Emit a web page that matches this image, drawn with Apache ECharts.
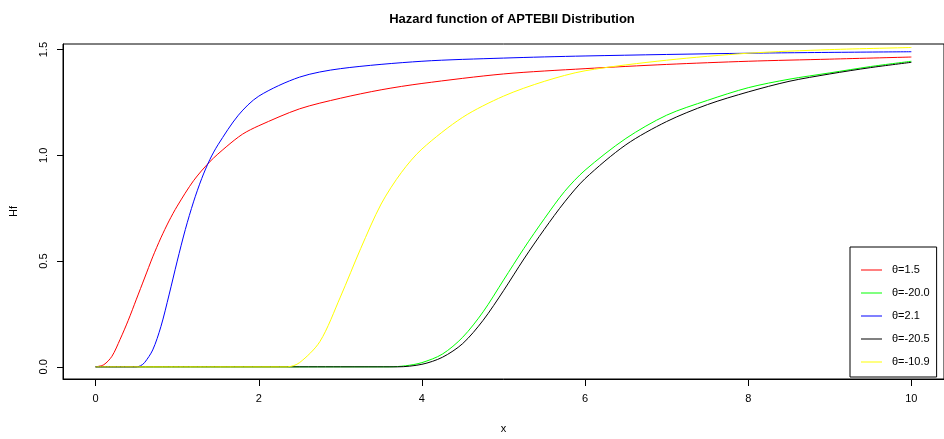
<!DOCTYPE html>
<html>
<head>
<meta charset="utf-8">
<script src="https://cdn.jsdelivr.net/npm/echarts@6/dist/echarts.min.js"></script>
<style>
html,body{margin:0;padding:0;background:#fff;}
#chart{width:944px;height:439px;}
</style>
</head>
<body>
<div id="chart"></div>
<script>
const titleText = "Hazard function of APTEBII Distribution";
const xTicks = [0, 2, 4, 6, 8, 10];
const yTicks = [0, 0.5, 1.0, 1.5];

const seriesNames = ["θ=1.5", "θ=-20.0", "θ=2.1", "θ=-20.5", "θ=-10.9"];
const seriesColors = ["#ff0000", "#00ff00", "#0000ff", "#000000", "#ffff00"];

const redX = [0, 0.1, 0.2, 0.3, 0.4, 0.5, 0.6, 0.7, 0.8, 0.9, 1.0, 1.2, 1.4, 1.6, 1.8, 2.0, 2.5, 3.0, 3.5, 4, 5, 6, 7, 8, 9, 10];
const redY = [0, 0.01, 0.05, 0.13, 0.22, 0.32, 0.42, 0.52, 0.61, 0.69, 0.76, 0.88, 0.97, 1.04, 1.10, 1.14, 1.22, 1.27, 1.31, 1.34, 1.385, 1.41, 1.43, 1.445, 1.455, 1.465];

const greenX = [0, 3.0, 3.6, 3.8, 4.0, 4.25, 4.5, 4.75, 5.0, 5.25, 5.5, 5.75, 6.0, 6.5, 7.0, 7.5, 8.0, 8.5, 9.0, 9.5, 10];
const greenY = [0, 0, 0, 0.005, 0.02, 0.06, 0.14, 0.26, 0.41, 0.56, 0.70, 0.83, 0.93, 1.08, 1.19, 1.26, 1.32, 1.36, 1.39, 1.42, 1.445];

const blueX = [0, 0.25, 0.5, 0.55, 0.6, 0.7, 0.8, 0.9, 1.0, 1.1, 1.2, 1.3, 1.4, 1.5, 1.75, 2.0, 2.5, 3.0, 4, 5, 6, 8, 10];
const blueY = [0, 0, 0, 0.005, 0.02, 0.08, 0.19, 0.34, 0.50, 0.65, 0.78, 0.89, 0.98, 1.05, 1.19, 1.28, 1.37, 1.41, 1.445, 1.46, 1.47, 1.483, 1.49];

const blackX = [0, 3.0, 3.7, 4.0, 4.25, 4.5, 4.75, 5.0, 5.25, 5.5, 5.75, 6.0, 6.5, 7.0, 7.5, 8.0, 8.5, 9.0, 9.5, 10];
const blackY = [0, 0, 0, 0.012, 0.045, 0.11, 0.22, 0.36, 0.51, 0.65, 0.78, 0.89, 1.05, 1.16, 1.24, 1.30, 1.35, 1.385, 1.415, 1.44];

const yellowX = [0, 1.5, 2.35, 2.5, 2.75, 3.0, 3.25, 3.5, 3.75, 4.0, 4.5, 5.0, 5.5, 6.0, 7.0, 8.0, 9.0, 10];
const yellowY = [0, 0, 0, 0.02, 0.12, 0.33, 0.56, 0.77, 0.92, 1.03, 1.18, 1.28, 1.35, 1.40, 1.45, 1.483, 1.50, 1.51];

const allX = [redX, greenX, blueX, blackX, yellowX];
const allY = [redY, greenY, blueY, blackY, yellowY];

const chart = echarts.init(document.getElementById('chart'), null, {renderer: 'canvas'});
const font = 'Liberation Sans, Arial, Helvetica, sans-serif';

const series = seriesNames.map((name, i) => ({
  name: name,
  type: 'line',
  data: allX[i].map((x, j) => [x, allY[i][j]]),
  symbol: 'none',
  smooth: 0.3,
  lineStyle: {color: seriesColors[i], width: 1},
  itemStyle: {color: seriesColors[i]},
  z: 2 + i
}));

chart.setOption({
  animation: false,
  backgroundColor: '#fff',
  title: {
    text: titleText,
    left: 507,
    top: 8,
    textAlign: 'center',
    textStyle: {fontFamily: font, fontWeight: 'bold', fontSize: 13, color: '#000'}
  },
  grid: {
    left: 62, top: 44, width: 891, height: 339,
    show: true, borderColor: '#000', borderWidth: 1, containLabel: false
  },
  xAxis: {
    type: 'value', min: -0.4, max: 10.4,
    name: 'x', nameLocation: 'middle', nameGap: 44,
    nameTextStyle: {fontFamily: font, fontSize: 11, color: '#000'},
    axisLine: {show: true, onZero: false, lineStyle: {color: '#000', width: 1}},
    axisTick: {show: true, length: 7, customValues: xTicks, lineStyle: {color: '#000'}},
    axisLabel: {customValues: xTicks, margin: 14, fontFamily: font, fontSize: 11, color: '#000'},
    splitLine: {show: false}
  },
  yAxis: {
    type: 'value', min: -0.0575, max: 1.5266,
    name: 'Hf', nameLocation: 'middle', nameGap: 44, nameRotate: 90,
    nameTextStyle: {fontFamily: font, fontSize: 11, color: '#000'},
    axisLine: {show: true, onZero: false, lineStyle: {color: '#000', width: 1}},
    axisTick: {show: true, length: 6, customValues: yTicks, lineStyle: {color: '#000'}},
    axisLabel: {customValues: yTicks, rotate: 90, margin: 14, fontFamily: font, fontSize: 11, color: '#000',
      formatter: v => v.toFixed(1)},
    splitLine: {show: false}
  },
  legend: {
    orient: 'vertical',
    left: 850, top: 247,
    padding: [16, 7, 8, 11],
    itemGap: 9,
    icon: 'rect',
    itemWidth: 21, itemHeight: 1,
    borderColor: '#000', borderWidth: 1, borderRadius: 0,
    backgroundColor: '#fff',
    textStyle: {fontFamily: font, fontSize: 11, color: '#000', lineHeight: 14, padding: [0, 0, 0, 5]},
    data: seriesNames
  },
  series: series
});
</script>
</body>
</html>
